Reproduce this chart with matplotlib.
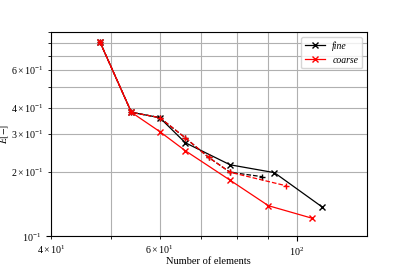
import matplotlib
matplotlib.use("Agg")
import matplotlib.pyplot as plt

plt.rcParams['font.family'] = 'serif'
plt.rcParams['font.serif'] = ['Liberation Serif', 'DejaVu Serif']
plt.rcParams['mathtext.fontset'] = 'stix'
plt.rcParams['font.size'] = 7.5

#%% data
n_fine = [48, 54, 60, 66, 78, 92, 110]
e_fine = [0.814, 0.380, 0.359, 0.274, 0.216, 0.1985, 0.137]

n_coarse = [48, 54, 60, 66, 78, 90, 106]
e_coarse = [0.814, 0.380, 0.309, 0.2515, 0.183, 0.139, 0.1214]

n_fine_dash = [48, 54, 60, 66, 72, 78, 88]
e_fine_dash = [0.814, 0.380, 0.359, 0.289, 0.234, 0.1993, 0.190]

n_coarse_dash = [48, 54, 60, 66, 72, 78, 96]
e_coarse_dash = [0.814, 0.380, 0.359, 0.289, 0.234, 0.1993, 0.1725]

#%% plot
fig = plt.figure(figsize=(4.07, 2.71), dpi=100)
ax = fig.add_axes([0.125, 0.128, 0.777, 0.753])

ax.loglog(n_fine, e_fine, 'k-x', lw=0.9, ms=4, label="fine")
ax.loglog(n_fine_dash, e_fine_dash, 'k--+', lw=0.9, ms=4)
ax.loglog(n_coarse, e_coarse, 'r-x', lw=0.9, ms=4, label="coarse")
ax.loglog(n_coarse_dash, e_coarse_dash, 'r--+', lw=0.9, ms=4)

ax.set_xlim(40, 130)
ax.set_ylim(0.1, 0.9)
ax.tick_params(which='both', labelsize=7.2)
ax.set_xlabel("Number of elements")
ax.set_ylabel("$E[-]$", fontsize=7)
ax.xaxis.set_label_coords(0.497, -0.1)
ax.yaxis.set_label_coords(-0.126, 0.5)
ax.grid(which='both')
ax.legend(loc='upper right', prop={'size': 7, 'style': 'italic'})

fig.savefig("out.png", dpi=100)
